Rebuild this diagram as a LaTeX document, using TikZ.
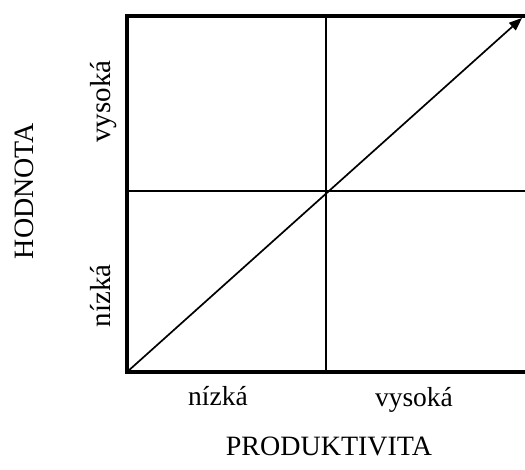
\documentclass[tikz,border=0pt]{standalone}
\usepackage{fontspec}
\setmainfont{Liberation Serif}
\usetikzlibrary{arrows.meta}
\begin{document}
\begin{tikzpicture}[x=1pt,y=1pt,
  frame/.style={line width=3.2pt},
  grid/.style={line width=1.6pt},
  trend/.style={line width=1.7pt,-{Triangle[length=13pt,width=10pt]}},
  botlabel/.style={font=\fontsize{27.5}{30}\selectfont,anchor=base,inner sep=0pt},
  sidelabel/.style={font=\fontsize{29}{32}\selectfont,anchor=base,rotate=90,inner sep=0pt},
  axislabel/.style={font=\fontsize{28}{31}\selectfont,anchor=base,inner sep=0pt}]
\useasboundingbox (0,0) rectangle (525,469);
\clip (0,0) rectangle (525,469);
\coordinate (bl) at (127,97);
\coordinate (tl) at (127,453);
\coordinate (br) at (530,97);
\coordinate (tr) at (530,453);
\coordinate (mt) at (326,453);
\coordinate (mb) at (326,97);
\coordinate (ml) at (127,278);
\coordinate (mr) at (530,278);
\coordinate (tip) at (522,451);
\draw[grid] (mt) -- (mb);
\draw[grid] (ml) -- (mr);
\draw[frame] (tr) -- (tl) -- (bl) -- (br);
\draw[trend] (bl) -- (tip);
\node[botlabel] (xlow) at (218,64) {nízká};
\node[botlabel] (xhigh) at (414,63) {vysoká};
\node[axislabel] (xaxis) at (329,14) {PRODUKTIVITA};
\node[axislabel,rotate=90] (yaxis) at (33,278) {HODNOTA};
\node[sidelabel] (yhigh) at (110,367.5) {vysoká};
\node[sidelabel] (ylow) at (110,173) {nízká};
\end{tikzpicture}
\end{document}
